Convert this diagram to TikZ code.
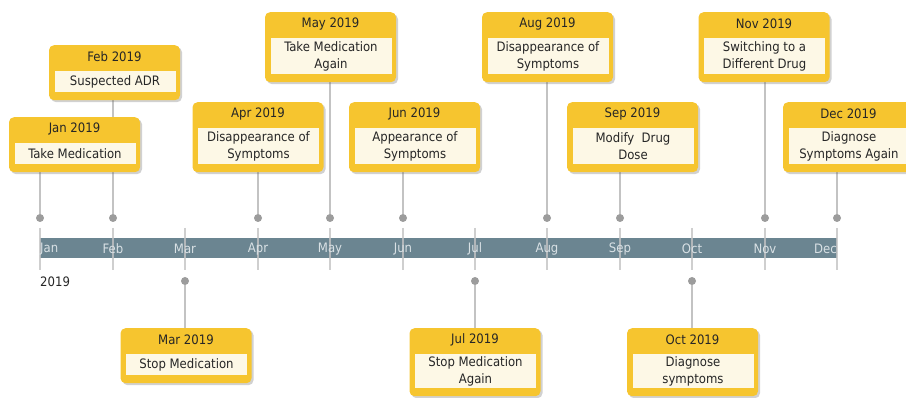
\documentclass[tikz,border=0pt]{standalone}
\usepackage{fontspec}
\setmainfont{DejaVu Sans Condensed}
\usetikzlibrary{shadows,backgrounds}
\definecolor{ev}{HTML}{F6C52F}
\definecolor{evin}{HTML}{FDF8E6}
\definecolor{barc}{HTML}{6B8591}
\definecolor{bartxt}{HTML}{D9E1E5}
\definecolor{conn}{HTML}{C3C3C3}
\definecolor{dotc}{HTML}{9C9C9C}
\definecolor{txt}{HTML}{262626}
\tikzset{
  evbox/.style={fill=ev, rounded corners=5pt, minimum width=131pt, inner sep=0pt, draw=none,
    drop shadow={shadow xshift=2pt, shadow yshift=-2pt, opacity=0.3, fill=black!60}},
  evtitle/.style={inner sep=0pt, text=txt, font=\fontsize{13}{16}\selectfont},
  evbody/.style={fill=evin, minimum width=121pt, inner sep=0pt, align=center, text=txt,
    font=\fontsize{13}{17}\selectfont},
  evdot/.style={circle, fill=dotc, minimum size=8pt, inner sep=0pt},
  connline/.style={draw=conn, line width=1.2pt},
  monthlbl/.style={inner sep=0pt, text=bartxt, font=\fontsize{13}{16}\selectfont},
}
\newcommand{\evt}[6]{%
  \node[evbox, minimum height=#4, anchor=north] (#1) at (#2,#3) {};
  \node[evtitle] (#1t) at (#2,#3+12) {#5};
  \node[evbody, minimum height=#4-34, anchor=north] (#1b) at (#2+0.5,#3+26) {#6};
}
\begin{document}
\begin{tikzpicture}[x=1pt,y=-1pt]
\clip (0,0) rectangle (906,398);
% bar
\fill[barc] (40,238) rectangle (837,258);
\foreach \m/\x in {jan/40,feb/113,mar/185,apr/258,may/330,jun/403,jul/475,aug/547,sep/620,oct/692,nov/765,dec/837}{
  \coordinate (t\m) at (\x,228);
  \coordinate (b\m) at (\x,270);
  \draw[conn, line width=1.2pt, opacity=0.8] (t\m) -- (b\m);
}
\node[monthlbl, anchor=west] (mjan) at (40,249) {Jan};
\node[monthlbl] (mfeb) at (113,249) {Feb};
\node[monthlbl] (mmar) at (185,249) {Mar};
\node[monthlbl] (mapr) at (258,249) {Apr};
\node[monthlbl] (mmay) at (330,249) {May};
\node[monthlbl] (mjun) at (403,249) {Jun};
\node[monthlbl] (mjul) at (475,249) {Jul};
\node[monthlbl] (maug) at (547,249) {Aug};
\node[monthlbl] (msep) at (620,249) {Sep};
\node[monthlbl] (moct) at (692,249) {Oct};
\node[monthlbl] (mnov) at (765,249) {Nov};
\node[monthlbl, anchor=east] (mdec) at (837,249) {Dec};
\node[inner sep=0pt, anchor=west, text=txt, font=\fontsize{13}{16}\selectfont] (year) at (40,282) {2019};
% dots
\foreach \m/\x in {jan/40,feb/113,apr/258,may/330,jun/403,aug/547,sep/620,nov/765,dec/837}{
  \node[evdot] (d\m) at (\x,218) {};
}
\foreach \m/\x in {mar/185,jul/475,oct/692}{
  \node[evdot] (d\m) at (\x,281) {};
}
% events
\evt{jan}{74.5}{117}{55}{Jan 2019}{Take Medication}
\evt{feb}{114.5}{45}{55}{Feb 2019}{Suspected ADR}
\evt{apr}{258}{102}{70}{Apr 2019}{Disappearance of\\Symptoms}
\evt{may}{330.5}{12}{70}{May 2019}{Take Medication\\Again}
\evt{jun}{414.5}{102}{70}{Jun 2019}{Appearance of\\Symptoms}
\evt{aug}{547.5}{12}{70}{Aug 2019}{Disappearance of\\Symptoms}
\evt{sep}{632.5}{102}{70}{Sep 2019}{Modify~ Drug\\Dose}
\evt{nov}{764}{12}{70}{Nov 2019}{Switching to a\\Different Drug}
\evt{dec}{848.5}{102}{70}{Dec 2019}{Diagnose\\Symptoms Again}
\evt{mar}{186}{328}{55}{Mar 2019}{Stop Medication}
\evt{jul}{475}{328}{68}{Jul 2019}{Stop Medication\\Again}
\evt{oct}{692.5}{328}{68}{Oct 2019}{Diagnose\\symptoms}
% connectors
\begin{scope}[on background layer]
\foreach \m in {jan,feb,apr,may,jun,aug,sep,nov,dec}{
  \draw[connline] (d\m) -- (d\m |- \m.south);
}
\foreach \m in {mar,jul,oct}{
  \draw[connline] (d\m) -- (d\m |- \m.north);
}
\end{scope}
\end{tikzpicture}
\end{document}
